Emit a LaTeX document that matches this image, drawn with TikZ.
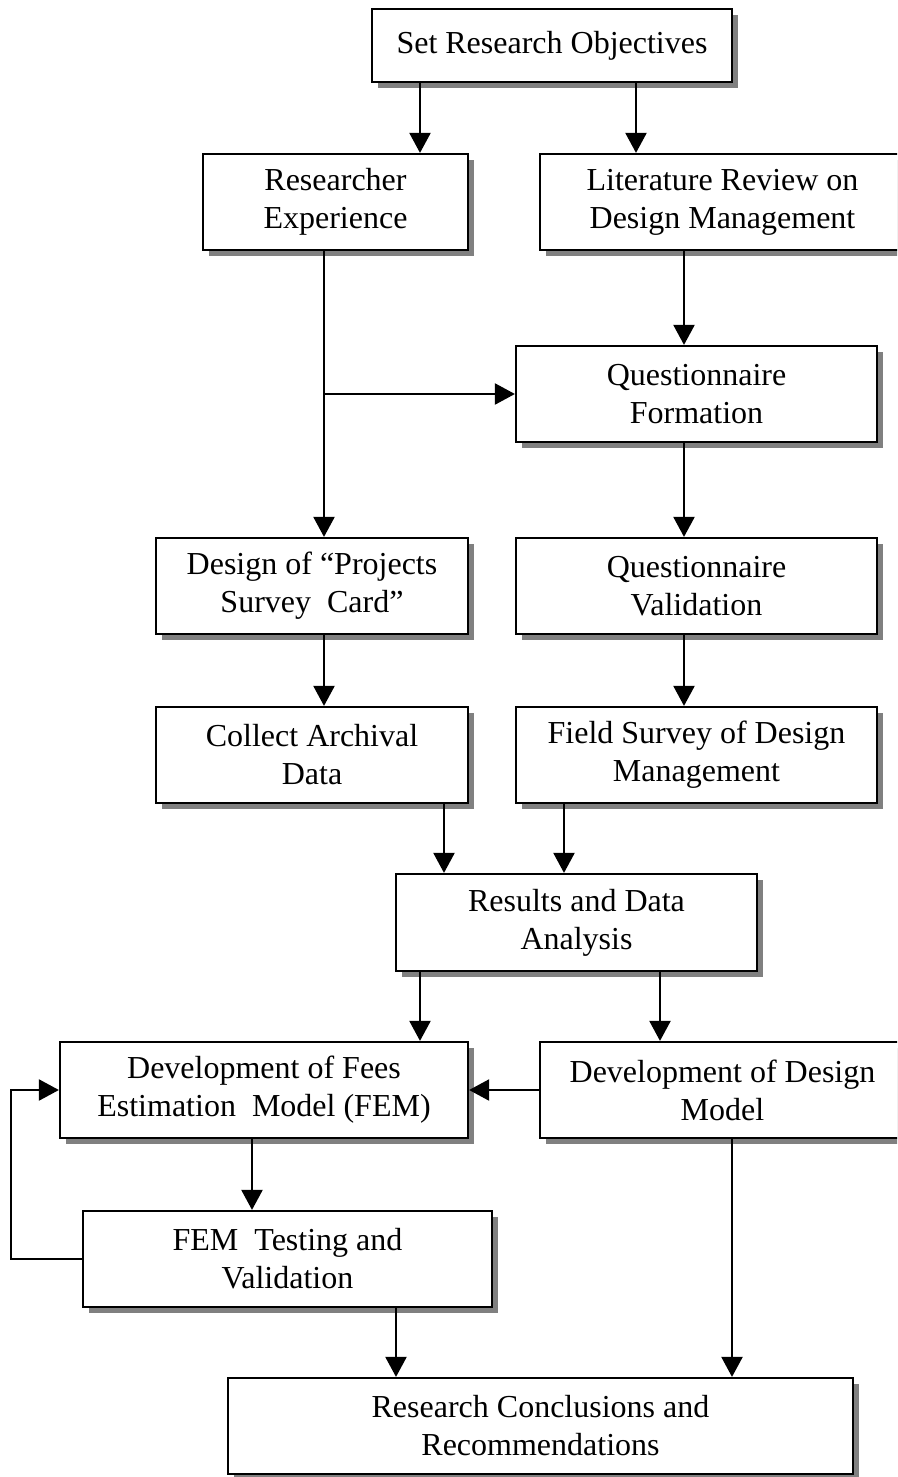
\documentclass[tikz,border=0pt]{standalone}
\usepackage{fontspec}
\setmainfont{Liberation Serif}
\usetikzlibrary{arrows.meta,shadows}
\begin{document}
\begin{tikzpicture}[x=1pt,y=-1pt,
  box/.style={draw, line width=2.2pt, fill=white, align=center, inner sep=0pt,
    font=\fontsize{32}{38}\selectfont,
    drop shadow={shadow xshift=6pt, shadow yshift=-6pt, fill=black!50, opacity=1}},
  arr/.style={line width=2.2pt, -{Triangle[length=20pt,width=21pt]}},
  ln/.style={line width=2.2pt}]
\clip (0,0) rectangle (897,1477);
\fill[white] (0,0) rectangle (897,1477);

\node[box, minimum width=360, minimum height=73] (sro) at (552,45.5) {Set Research Objectives};
\node[box, minimum width=265, minimum height=96] (rex) at (335.5,202) {Researcher\\Experience};
\node[box, minimum width=365, minimum height=96] (lit) at (722.5,202) {Literature Review on\\Design Management};
\node[box, minimum width=361, minimum height=96] (qf) at (696.5,394) {Questionnaire\\Formation};
\node[box, minimum width=312, minimum height=96] (dps) at (312,586) {Design of “Projects\\Survey\ \ Card”};
\node[box, minimum width=361, minimum height=96] (qv) at (696.5,586) {Questionnaire\\Validation};
\node[box, minimum width=312, minimum height=96] (cad) at (312,755) {Collect Archival\\Data};
\node[box, minimum width=361, minimum height=96] (fs) at (696.5,755) {Field Survey of Design\\Management};
\node[box, minimum width=361, minimum height=97] (rda) at (576.5,922.5) {Results and Data\\Analysis};
\node[box, minimum width=408, minimum height=96] (dfem) at (264,1090) {Development of Fees\\Estimation\ \ Model (FEM)};
\node[box, minimum width=365, minimum height=96] (ddm) at (722.5,1090) {Development of Design\\Model};
\node[box, minimum width=409, minimum height=96] (fem) at (287.5,1259) {FEM\ \ Testing and\\Validation};
\node[box, minimum width=625, minimum height=96] (rcr) at (540.5,1426) {Research Conclusions and\\Recommendations};

\coordinate (xa) at (420,0);
\coordinate (xb) at (636,0);
\coordinate (xc) at (324,0);
\coordinate (xd) at (684,0);
\coordinate (xe) at (444,0);
\coordinate (xf) at (564,0);
\coordinate (xg) at (660,0);
\coordinate (xh) at (252,0);
\coordinate (xi) at (396,0);
\coordinate (xj) at (732,0);

\draw[arr] (sro.south -| xa) -- (rex.north -| xa);
\draw[arr] (sro.south -| xb) -- (lit.north -| xb);
\draw[arr] (rex.south -| xc) -- (dps.north -| xc);
\draw[arr] (xc |- qf.west) -- (qf.west);
\draw[arr] (lit.south -| xd) -- (qf.north -| xd);
\draw[arr] (qf.south -| xd) -- (qv.north -| xd);
\draw[arr] (dps.south -| xc) -- (cad.north -| xc);
\draw[arr] (qv.south -| xd) -- (fs.north -| xd);
\draw[arr] (cad.south -| xe) -- (rda.north -| xe);
\draw[arr] (fs.south -| xf) -- (rda.north -| xf);
\draw[arr] (rda.south -| xa) -- (dfem.north -| xa);
\draw[arr] (rda.south -| xg) -- (ddm.north -| xg);
\draw[arr] (ddm.west) -- (dfem.east);
\draw[arr] (dfem.south -| xh) -- (fem.north -| xh);
\draw[arr] (fem.west) -- ++(-71,0) |- (dfem.west);
\draw[arr] (fem.south -| xi) -- (rcr.north -| xi);
\draw[arr] (ddm.south -| xj) -- (rcr.north -| xj);
\end{tikzpicture}
\end{document}
